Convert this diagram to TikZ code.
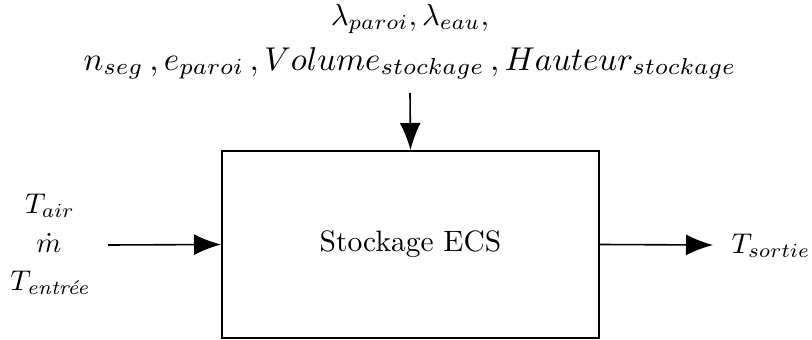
\documentclass[tikz,border=0pt]{standalone}
\usepackage{amsmath}
\usetikzlibrary{arrows.meta}
\begin{document}
\begin{tikzpicture}[x=1pt,y=-1pt,
  conn/.style={line width=1.6pt,-{Latex[length=27pt,width=21pt]}},
  lbl/.style={inner sep=0pt, scale=3.3, anchor=base},
  lblone/.style={inner sep=0pt, scale=3.05, anchor=base},
  sidelbl/.style={inner sep=0pt, scale=2.85, anchor=base}]
\useasboundingbox (0,0) rectangle (812,340);
\node[draw, line width=2pt, minimum width=377pt, minimum height=187pt, inner sep=0pt] (box) at (410.5,244.5) {};
\node[inner sep=0pt, scale=2.95] (boxtext) at (box.center) {Stockage ECS};
\node[lblone] (top1) at (410,25) {$\lambda_{paroi}, \lambda_{eau},$};
\node[lbl] (top2) at (410,70)
  {$n_{seg}\,, e_{paroi}\,, Volume_{stockage}\,, Hauteur_{stockage}$};
\coordinate (topin) at (410,93);
\node[sidelbl] (tair) at (50,213) {$T_{air}$};
\node[sidelbl] (mdot) at (49,252) {$\dot m$};
\node[sidelbl] (tin) at (50,290) {$T_{\textit{entr\'ee}}$};
\coordinate (leftin) at (108,245);
\node[sidelbl, anchor=base west] (out) at (731,253) {$T_{sortie}$};
\coordinate (outend) at (713,245);
\draw[conn] (topin) -- (box.north);
\draw[conn] (leftin) -- (box.west);
\draw[conn] (box.east) -- (outend);
\end{tikzpicture}
\end{document}
